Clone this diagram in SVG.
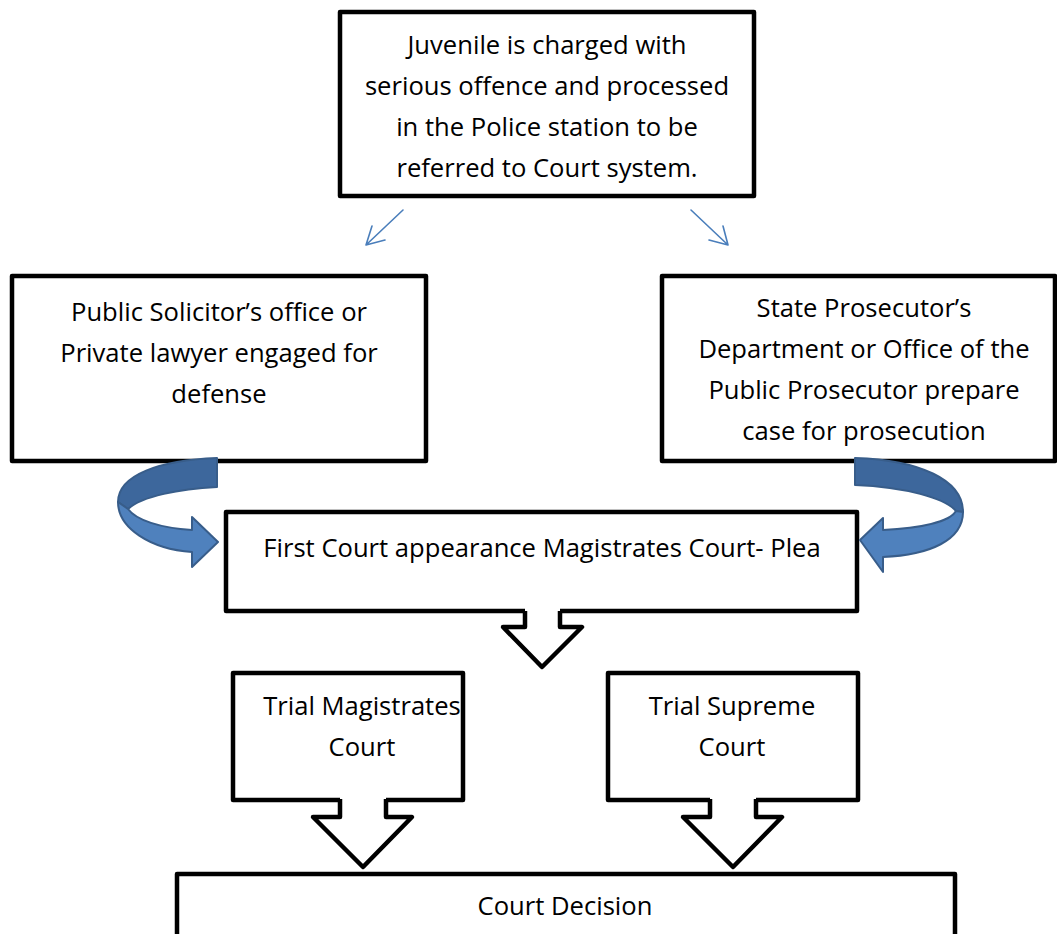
<svg xmlns="http://www.w3.org/2000/svg" width="1057" height="934" viewBox="0 0 1057 934">
<style>
.box{fill:#fff;stroke:#000;stroke-width:4.5;stroke-linejoin:round}
.t{font-family:"Open Sans","Liberation Sans",sans-serif;font-size:25.6px;fill:#000;text-anchor:middle}
.thin{fill:none;stroke:#4a7ebb;stroke-width:1.6;stroke-linecap:round}
.dark{fill:#3d679c;stroke:#385d8a;stroke-width:2;stroke-linejoin:round}
.light{fill:#4f81bd;stroke:#385d8a;stroke-width:2;stroke-linejoin:round}
.blk{fill:#fff;stroke:#000;stroke-width:4.5;stroke-linejoin:round}
</style>
<rect width="1057" height="934" fill="#fff"/>
<g id="n-start">
<rect class="box" x="340" y="12" width="414" height="184"/>
<text class="t" x="547" y="54">Juvenile is charged with</text>
<text class="t" x="547" y="95">serious offence and processed</text>
<text class="t" x="547" y="136">in the Police station to be</text>
<text class="t" x="547" y="177">referred to Court system.</text>
</g>
<g id="n-defense">
<rect class="box" x="12" y="276" width="414" height="185"/>
<text class="t" x="219" y="321">Public Solicitor’s office or</text>
<text class="t" x="219" y="362">Private lawyer engaged for</text>
<text class="t" x="219" y="403">defense</text>
</g>
<g id="n-prosecution">
<rect class="box" x="662" y="276" width="393" height="185"/>
<text class="t" x="864" y="317">State Prosecutor’s</text>
<text class="t" x="864" y="358">Department or Office of the</text>
<text class="t" x="864" y="399">Public Prosecutor prepare</text>
<text class="t" x="864" y="440">case for prosecution</text>
</g>
<g id="n-first">
<rect class="box" x="226" y="512" width="631" height="99"/>
<text class="t" x="542" y="557">First Court appearance Magistrates Court- Plea</text>
</g>
<g id="n-trial-mag">
<rect class="box" x="233" y="673" width="230" height="127"/>
<text class="t" x="362" y="715">Trial Magistrates</text>
<text class="t" x="362" y="756">Court</text>
</g>
<g id="n-trial-sup">
<rect class="box" x="608" y="673" width="250" height="127"/>
<text class="t" x="732" y="715">Trial Supreme</text>
<text class="t" x="732" y="756">Court</text>
</g>
<g id="n-decision">
<rect class="box" x="177" y="874" width="778" height="80"/>
<text class="t" x="565" y="915">Court Decision</text>
</g>
<g id="connectors">
<path class="thin" d="M403 210 L366 245 M366 245 L372 226 M366 245 L385 240"/>
<path class="thin" d="M691 210 L728 245 M728 245 L723 226 M728 245 L709 240"/>
<path class="dark" d="M217 458 C160 460 118 475 118 502 L128 509 C142 496 180 489 217 487 Z"/>
<path class="light" d="M118 502 C118 528 150 549 192 552 L192 567 L218 542 L192 517 L192 530 C160 528 136 520 128 509 Z"/>
<path class="dark" d="M855 458 C920 460 963 480 963 512 L956 511 C945 498 905 487 855 485 Z"/>
<path class="light" d="M963 512 C963 540 930 555 883 557 L883 572 L860 540 L883 518 L883 530 C920 528 950 522 956 511 Z"/>
<path fill="#fff" d="M525 605 L560 605 L560 627 L582 627 L542 667 L503 627 L525 627 Z"/>
<path class="blk" fill="none" d="M525 611 L525 627 L503 627 L542 667 L582 627 L560 627 L560 611"/>
<path fill="#fff" d="M340 794 L386 794 L386 817 L412 817 L363 867 L313 817 L340 817 Z"/>
<path class="blk" d="M340 799 L340 817 L313 817 L363 867 L412 817 L386 817 L386 799"/>
<path fill="#fff" d="M710 794 L756 794 L756 817 L782 817 L733 867 L683 817 L710 817 Z"/>
<path class="blk" d="M710 799 L710 817 L683 817 L733 867 L782 817 L756 817 L756 799"/>
</g>
</svg>
